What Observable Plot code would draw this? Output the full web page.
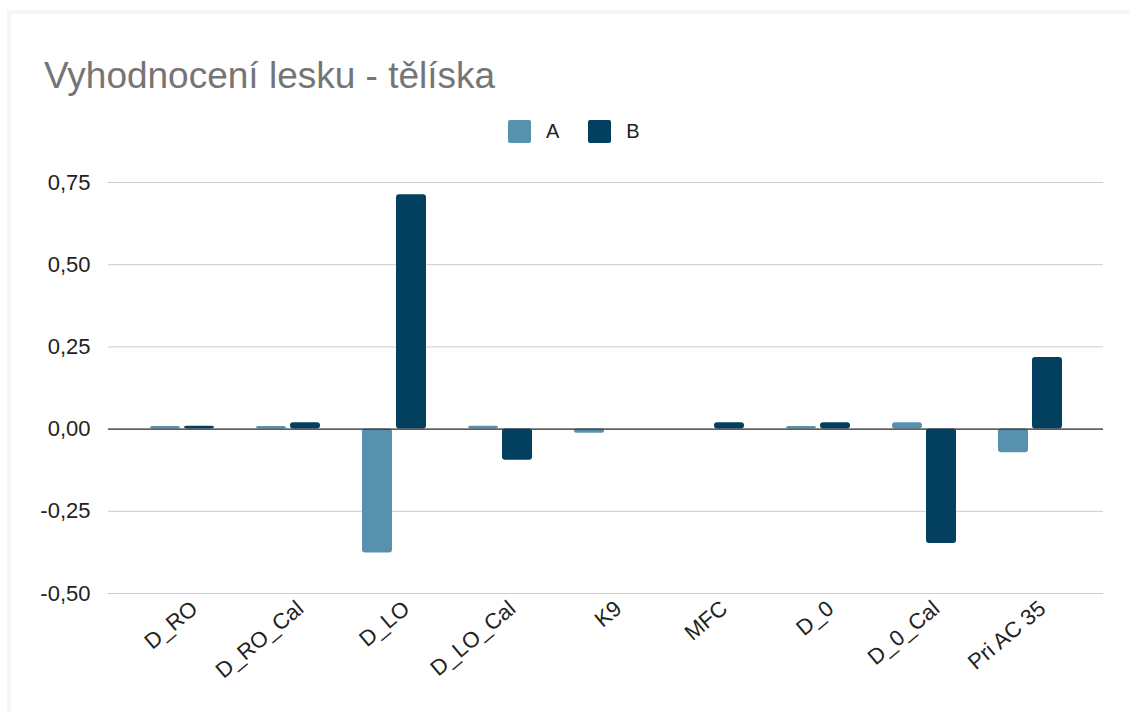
<!DOCTYPE html>
<html>
<head>
<meta charset="utf-8">
<script src="https://cdn.jsdelivr.net/npm/d3@7"></script>
<script src="https://cdn.jsdelivr.net/npm/@observablehq/plot@0.6"></script>
<style>
  html, body { margin: 0; padding: 0; background: #ffffff; }
  body { width: 1129px; height: 711px; position: relative; overflow: hidden; font-family: "Liberation Sans", Arial, sans-serif; }
  #card { position: absolute; left: 7px; top: 10px; right: -10px; bottom: -10px; border-top: 4px solid #f4f5f7; border-left: 4px solid #f4f5f7; box-sizing: border-box; }
  #title { position: absolute; left: 44px; top: 55px; font-size: 37px; color: #757575; white-space: nowrap; }
  #legend { position: absolute; left: 508px; top: 120px; display: flex; align-items: center; font-size: 20px; color: #222; }
  .sw { width: 23px; height: 23px; border-radius: 2px; display: inline-block; margin-right: 15px; }
  .item { display: flex; align-items: center; margin-right: 29px; }
  #chart { position: absolute; left: 0; top: 0; }
</style>
</head>
<body>
<div id="card"></div>
<div id="title">Vyhodnocení lesku - tělíska</div>
<div id="legend"></div>
<div id="chart"></div>
<script>
const categories = ["D_RO", "D_RO_Cal", "D_LO", "D_LO_Cal", "K9", "MFC", "D_0", "D_0_Cal", "Pri AC 35"];
const seriesNames = ["A", "B"];
const valuesA = [0.008, 0.008, -0.377, 0.009, -0.013, 0, 0.008, 0.019, -0.072];
const valuesB = [0.009, 0.019, 0.713, -0.095, 0, 0.019, 0.019, -0.348, 0.218];
const yTicks = [-0.5, -0.25, 0, 0.25, 0.5, 0.75];
const colors = ["#5891ad", "#03405f"];

const rows = [];
categories.forEach((c, i) => {
  rows.push({category: c, series: "A", value: valuesA[i]});
  rows.push({category: c, series: "B", value: valuesB[i]});
});

const fmt = d => d.toFixed(2).replace(".", ",");

const chart = Plot.plot({
  width: 1129,
  height: 711,
  marginLeft: 108,
  marginRight: 26,
  marginTop: 182,
  marginBottom: 118,
  style: {fontFamily: "'Liberation Sans', Arial, sans-serif", fontSize: "22px", color: "#222", background: "transparent"},
  x: {domain: categories, paddingInner: 0.718, paddingOuter: 0.536, label: null},
  y: {domain: [-0.5, 0.75], label: null},
  color: {domain: seriesNames, range: colors},
  marks: [
    Plot.ruleY(yTicks, {stroke: "#cccccc", strokeWidth: 1}),
    Plot.axisY({ticks: yTicks, tickFormat: fmt, tickSize: 0, tickPadding: 18, fontSize: 22, label: null}),
    Plot.axisX({tickSize: 0, tickRotate: -40, tickPadding: 12, fontSize: 22, label: null, dx: 12}),
    Plot.barY(rows.filter(d => d.series === "A"), {x: "category", y: "value", fill: "series", dx: -17, rx: 3}),
    Plot.barY(rows.filter(d => d.series === "B"), {x: "category", y: "value", fill: "series", dx: 17, rx: 3}),
    Plot.ruleY([0], {stroke: "#333333", strokeWidth: 1.3})
  ]
});
document.getElementById("chart").appendChild(chart);

const legend = document.getElementById("legend");
seriesNames.forEach((s, i) => {
  const item = document.createElement("div");
  item.className = "item";
  const sw = document.createElement("span");
  sw.className = "sw";
  sw.style.background = colors[i];
  item.appendChild(sw);
  item.appendChild(document.createTextNode(s));
  legend.appendChild(item);
});
</script>
</body>
</html>
